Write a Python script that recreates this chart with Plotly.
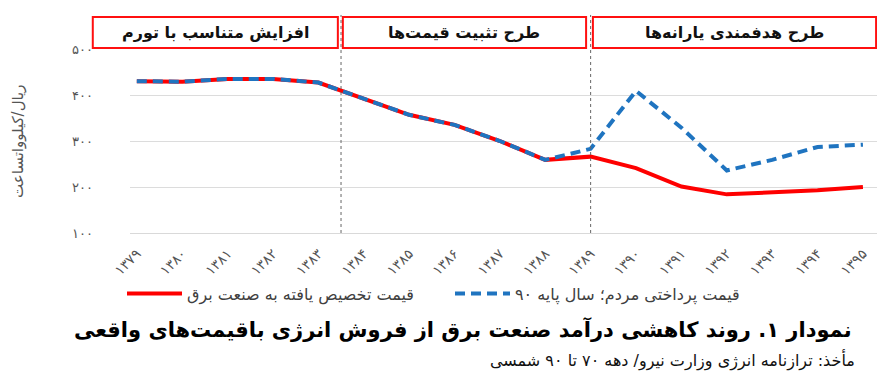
import plotly.graph_objects as go

years = ["۱۳۷۹", "۱۳۸۰", "۱۳۸۱", "۱۳۸۲", "۱۳۸۳", "۱۳۸۴", "۱۳۸۵", "۱۳۸۶", "۱۳۸۷",
         "۱۳۸۸", "۱۳۸۹", "۱۳۹۰", "۱۳۹۱", "۱۳۹۲", "۱۳۹۳", "۱۳۹۴", "۱۳۹۵"]
allocated = [430, 429, 435, 435, 427, 393, 357, 335, 300, 259, 266, 241, 201, 184, 188, 193, 200]
paid = [430, 429, 435, 435, 427, 393, 357, 335, 300, 259, 283, 409, 329, 236, 259, 287, 292]
y_ticks = [100, 200, 300, 400, 500]
y_tick_text = ["۱۰۰", "۲۰۰", "۳۰۰", "۴۰۰", "۵۰۰"]
series_names = ["قیمت تخصیص یافته به صنعت برق", "قیمت پرداختی مردم؛ سال پایه ۹۰"]
phases = ["افزایش متناسب با تورم", "طرح تثبیت قیمت\u200cها", "طرح هدفمندی یارانه\u200cها"]
phase_edges = [(-0.97, 4.43), (4.54, 9.9), (10.05, 16.29)]
phase_dividers = [4.5, 10]
title_text = "نمودار ۱. روند کاهشی درآمد صنعت برق از فروش انرژی باقیمت\u200cهای واقعی"
source_text = "مأخذ: ترازنامه انرژی وزارت نیرو/ دهه ۷۰ تا ۹۰ شمسی"
y_title = "ریال/کیلوواتساعت"

FONT = "DejaVu Sans"
XR = [-0.15, 16.31]
xs = list(range(len(years)))


def xp(v):
    return (v - XR[0]) / (XR[1] - XR[0])


fig = go.Figure()
fig.add_trace(go.Scatter(x=xs, y=allocated, mode="lines", name=series_names[0],
                         line=dict(color="#fe0000", width=4)))
fig.add_trace(go.Scatter(x=xs, y=paid, mode="lines", name=series_names[1],
                         line=dict(color="#1f74c0", width=4, dash="10px,6px")))

shapes = []
for d in phase_dividers:
    shapes.append(dict(type="line", xref="paper", yref="paper", x0=xp(d), x1=xp(d),
                       y0=0, y1=1.185, line=dict(color="#666666", width=1, dash="dot"),
                       layer="above"))
annotations = []
for name, (a, b) in zip(phases, phase_edges):
    shapes.append(dict(type="rect", xref="paper", yref="paper", x0=xp(a), x1=xp(b),
                       y0=1.005, y1=1.174, fillcolor="white",
                       line=dict(color="#ff1010", width=2), layer="above"))
    annotations.append(dict(text="<b>" + name + "</b>", xref="paper", yref="paper",
                            x=(xp(a) + xp(b)) / 2, y=1.09, showarrow=False,
                            xanchor="center", yanchor="middle",
                            font=dict(family=FONT, size=16, color="#111111")))

annotations.append(dict(text="<b>" + title_text + "</b>", xref="paper", yref="paper",
                        x=(463 - 130) / 747, y=-0.524, showarrow=False,
                        xanchor="center", yanchor="middle",
                        font=dict(family=FONT, size=21, color="#000000")))
annotations.append(dict(text=source_text, xref="paper", yref="paper",
                        x=(857 - 130) / 747, y=-0.69, showarrow=False,
                        xanchor="right", yanchor="middle",
                        font=dict(family=FONT, size=16, color="#111111")))
annotations.append(dict(text=y_title, xref="paper", yref="paper",
                        x=(18 - 130) / 747, y=0.5, showarrow=False, textangle=-90,
                        xanchor="center", yanchor="middle",
                        font=dict(family=FONT, size=15, color="#555555")))

fig.update_layout(
    width=877, height=383,
    margin=dict(l=130, r=0, t=49, b=150),
    paper_bgcolor="white", plot_bgcolor="white",
    font=dict(family=FONT, color="#555555"),
    showlegend=True,
    legend=dict(orientation="h", xref="paper", x=(122 - 130) / 747, xanchor="left",
                yref="paper", y=-0.33, yanchor="middle", itemwidth=55,
                entrywidth=258, entrywidthmode="pixels",
                font=dict(family=FONT, size=16, color="#404040"),
                traceorder="normal", bgcolor="rgba(0,0,0,0)"),
    xaxis=dict(range=XR, tickmode="array", tickvals=xs, ticktext=years,
               tickangle=-45, showgrid=False, zeroline=False, showline=True,
               linecolor="#d9d9d9", linewidth=1, ticks="", ticklabelstandoff=6,
               tickfont=dict(family=FONT, size=14, color="#555555")),
    yaxis=dict(range=[100, 500], tickmode="array", tickvals=y_ticks, ticktext=y_tick_text,
               showgrid=True, gridcolor="#dcdcdc", zeroline=False, showline=False,
               ticks="", ticklabelstandoff=36,
               tickfont=dict(family=FONT, size=13, color="#555555")),
    shapes=shapes, annotations=annotations,
)

fig.write_html("out.html")
